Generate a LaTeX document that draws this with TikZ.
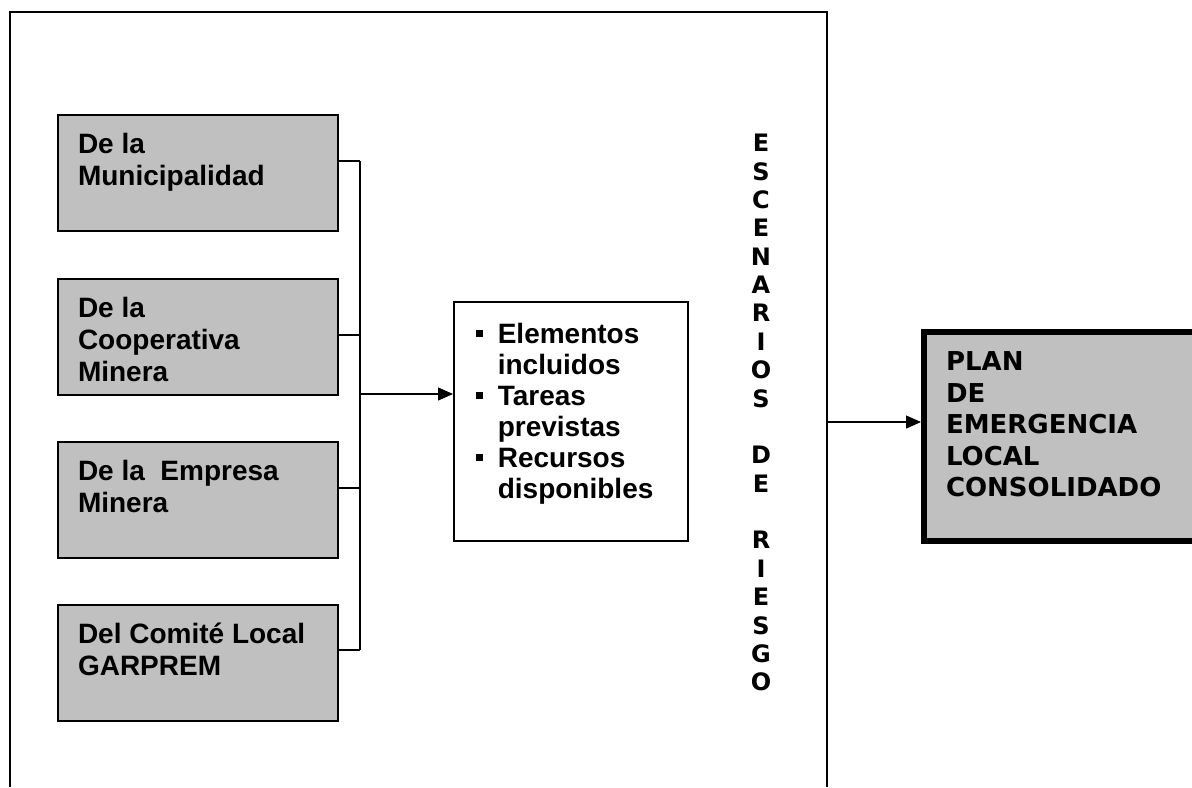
\documentclass[tikz,border=0pt]{standalone}
\usepackage{fontspec}
\setmainfont{Liberation Sans}
\newfontfamily\verd{DejaVu Sans}
\usetikzlibrary{arrows.meta}
\definecolor{gris}{HTML}{C0C0C0}
\newcommand{\texto}[3]{\parbox[t][#1][t]{#2}{\raggedright #3}}
\newcommand{\cuadro}{\makebox[11pt][l]{\rule[3.2pt]{3.5pt}{3.5pt}}}
\tikzset{caja/.style={draw,fill=gris,line width=1pt,anchor=north west,inner xsep=10pt,inner ysep=9pt,font=\bfseries\fontsize{14}{16}\selectfont}}
\tikzset{lista/.style={draw,line width=0.8pt,anchor=north west,inner xsep=11pt,inner ysep=10.8pt,font=\bfseries\fontsize{14}{15.5}\selectfont}}
\tikzset{plan/.style={draw,fill=gris,line width=3pt,anchor=north west,inner xsep=11pt,inner ysep=10pt,font=\verd\bfseries\fontsize{13}{15.75}\selectfont}}
\tikzset{letra/.style={inner sep=0pt,font=\verd\bfseries\fontsize{12}{14}\selectfont}}
\tikzset{flecha/.style={-{Triangle[length=7.5pt,width=6.5pt]},line width=0.6pt}}
\begin{document}
\begin{tikzpicture}[x=0.5pt,y=0.5pt]
      \useasboundingbox (0,0) rectangle (1192,-787);
      % marco
      \draw[line width=0.8pt] (10,-787) -- (10,-12) -- (827,-12) -- (827,-787);
      % fuentes
      \node[caja] (mun) at (57,-114) {\texto{40pt}{120pt}{De la\\Municipalidad}};
      \node[caja] (coop) at (57,-278) {\texto{40pt}{120pt}{De la\\Cooperativa\\Minera}};
      \node[caja] (emp) at (57,-441) {\texto{40pt}{120pt}{De la\ \ Empresa\\Minera}};
      \node[caja] (com) at (57,-604) {\texto{40pt}{120pt}{Del Comit\'e Local\\GARPREM}};
      \coordinate (b1) at (360,-161);
      \coordinate (b2) at (360,-335);
      \coordinate (b3) at (360,-488);
      \coordinate (b4) at (360,-650);
      \coordinate (j) at (360,-394);
      \foreach \a/\b in {mun/b1,coop/b2,emp/b3,com/b4}
        \draw[line width=0.6pt] (\b -| \a.east) -- (\b);
      \draw[line width=0.6pt] (b1) -- (b4);
      % lista
      \node[lista] (lst) at (453,-301) {\texto{97.9pt}{95pt}{\cuadro Elementos\\\hspace*{11pt}incluidos\\\cuadro Tareas\\\hspace*{11pt}previstas\\\cuadro Recursos\\\hspace*{11pt}disponibles}};
      \draw[flecha] (j) -- (j -| lst.west);
      % escenarios de riesgo
      \foreach \ch/\k in {E/0,S/1,C/2,E/3,N/4,A/5,R/6,I/7,O/8,S/9,D/11,E/12,R/14,I/15,E/16,S/17,G/18,O/19}
        \node[letra] (esc\k) at (761,{-143-28.37*\k}) {\ch};
      % plan
      \node[plan] (pl) at (921,-329) {\texto{84.5pt}{117.5pt}{PLAN\\DE\\EMERGENCIA\\LOCAL\\CONSOLIDADO}};
      \coordinate (fr) at (827,-422);
      \draw[flecha] (fr) -- (fr -| pl.west);
\end{tikzpicture}
\end{document}
